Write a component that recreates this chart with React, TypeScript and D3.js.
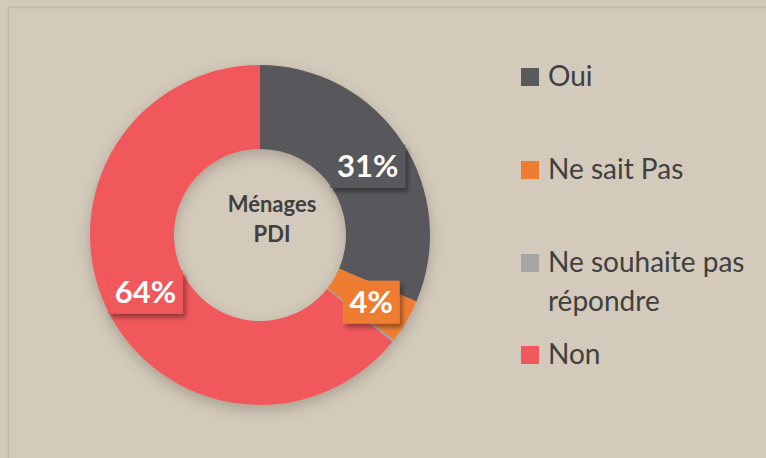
import * as d3 from 'd3'

const categories = ['Oui', 'Ne sait Pas', 'Ne souhaite pas répondre', 'Non']
const values = [31.4, 4.2, 0.2, 64.2]
const colors = ['#58595b', '#ee7d31', '#a5a5a5', '#f0595b']
const legendLines = [['Oui'], ['Ne sait Pas'], ['Ne souhaite pas', 'répondre'], ['Non']]
const legendRowY = [77, 170, 263, 355]
const centerTitle = ['Ménages', 'PDI']

const width = 766
const height = 458
const cx = 260
const cy = 235
const outerR = 170
const innerR = 86

function labelWidth(text: string) {
  // rough Lato bold widths at 31px
  return text.split('').reduce((sum, ch) => sum + (ch === '%' ? 25 : 18), 0) + 14
}

export default function App() {
  const pie = d3
    .pie<number>()
    .sort(null)
    .value((d) => d)
  const arcs = pie(values)
  const arc = d3.arc<d3.PieArcDatum<number>>().innerRadius(innerR).outerRadius(outerR)
  const labelArc = d3
    .arc<d3.PieArcDatum<number>>()
    .innerRadius((innerR + outerR) / 2)
    .outerRadius((innerR + outerR) / 2)

  return (
    <svg
      width={width}
      height={height}
      viewBox={`0 0 ${width} ${height}`}
      style={{ position: 'fixed', left: 0, top: 0, background: '#d3cabb' }}
      fontFamily="Lato, 'Open Sans', sans-serif"
    >
      <defs>
        <filter id="donutShadow" x="-30%" y="-30%" width="160%" height="160%">
          <feDropShadow dx="0" dy="5" stdDeviation="7" floodColor="#5a4f40" floodOpacity="0.35" />
        </filter>
        <filter id="boxShadow" x="-30%" y="-30%" width="160%" height="160%">
          <feDropShadow dx="3" dy="4" stdDeviation="2" floodColor="#000" floodOpacity="0.35" />
        </filter>
      </defs>

      <rect x={0} y={0} width={width} height={height} fill="#d3cabb" />
      <rect x={8.5} y={7.5} width={width + 20} height={height + 20} fill="none" stroke="#bfb8ad" strokeWidth="1.5" />

      <g transform={`translate(${cx},${cy})`}>
        <g filter="url(#donutShadow)">
          {arcs.map((a, i) => (
            <path key={categories[i]} d={arc(a) ?? ''} fill={colors[i]} />
          ))}
        </g>

        {arcs.map((a, i) => {
          const pct = Math.round(a.data)
          if (pct < 1) return null
          const text = `${pct}%`
          const [lx, ly] = labelArc.centroid(a)
          const w = labelWidth(text)
          const h = 43
          return (
            <g key={categories[i]} transform={`translate(${lx + 1},${ly + 2})`}>
              <rect x={-w / 2} y={-h / 2} width={w} height={h} fill={colors[i]} filter="url(#boxShadow)" />
              <text
                y={11}
                textAnchor="middle"
                fontSize="31"
                fontWeight="700"
                fill="#ffffff"
              >
                {text}
              </text>
            </g>
          )
        })}

        {centerTitle.map((line, i) => (
          <text
            key={line}
            x={12}
            y={-23 + i * 30}
            textAnchor="middle"
            fontSize="22"
            fontWeight="700"
            fill="#404040"
          >
            {line}
          </text>
        ))}
      </g>

      {categories.map((cat, i) => (
        <g key={cat} transform={`translate(521,${legendRowY[i]})`}>
          <rect x={0} y={-9} width={18} height={18} fill={colors[i]} />
          {legendLines[i].map((line, j) => (
            <text key={line} x={27} y={9 + j * 39} fontSize="28" fill="#404040">
              {line}
            </text>
          ))}
        </g>
      ))}
    </svg>
  )
}
